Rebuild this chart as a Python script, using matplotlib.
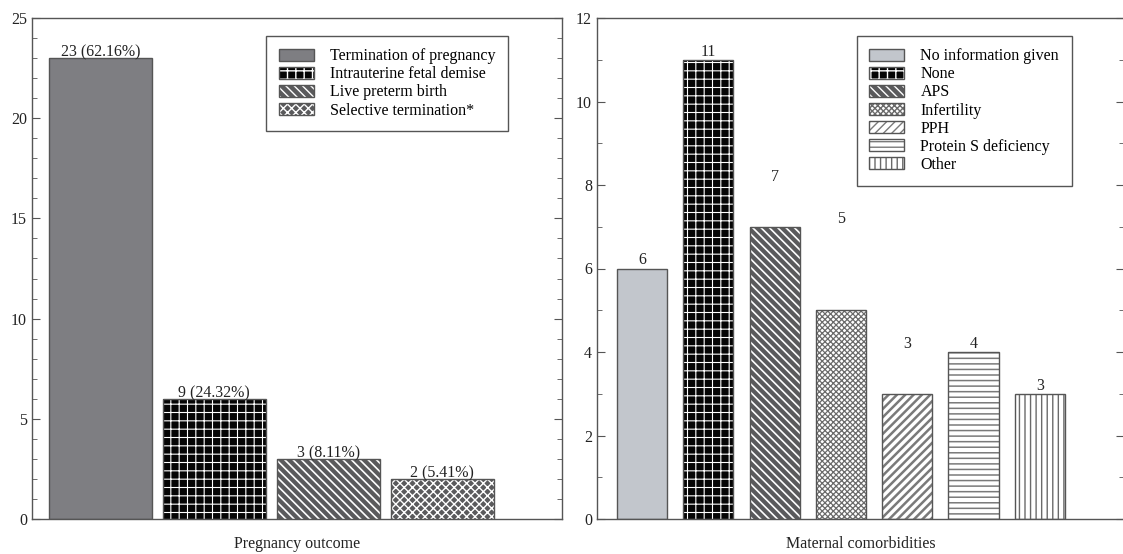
import matplotlib
matplotlib.use("Agg")
import matplotlib.pyplot as plt
from matplotlib.patches import Patch
from matplotlib.ticker import MultipleLocator

outcome_labels = [
    "Termination of pregnancy",
    "Intrauterine fetal demise",
    "Live preterm birth",
    "Selective termination*",
]
outcome_heights = [23, 6, 3, 2]
outcome_text = ["23 (62.16%)", "9 (24.32%)", "3 (8.11%)", "2 (5.41%)"]

comorb_labels = [
    "No information given",
    "None",
    "APS",
    "Infertility",
    "PPH",
    "Protein S deficiency",
    "Other",
]
comorb_counts = [6, 11, 7, 5, 3, 4, 3]
comorb_text = ["6", "11", "7", "5", "3", "4", "3"]
comorb_label_lift = [0, 0, 1, 2, 1, 0, 0]

# (face, hatch colour, hatch, hatch linewidth)
outcome_styles = [
    ("#7e7e82", None, None, 0),
    ("#050505", "white", "++", 0.8),
    ("#5a5a5c", "white", "\\\\\\\\", 1.2),
    ("#5a5a5c", "white", "xxxx", 1.0),
]
comorb_styles = [
    ("#c2c6cc", None, None, 0),
    ("#050505", "white", "++", 0.8),
    ("#5a5a5c", "white", "\\\\\\\\", 1.2),
    ("white", "#6a6a6a", "xxxxxx", 0.9),
    ("white", "#7a7a7a", "////", 1.8),
    ("white", "#7a7a7a", "---", 1.1),
    ("white", "#6a6a6a", "|||", 1.0),
]

EDGE = "#555555"
plt.rcParams["font.family"] = ["Liberation Serif", "DejaVu Serif"]


def hatched(kind, lw, **kw):
    with plt.rc_context({"hatch.linewidth": lw}):
        p = kind(**kw)
    if hasattr(p, "set_hatch_linewidth"):
        p.set_hatch_linewidth(lw)
    return p


def draw_bars(ax, heights, styles, width):
    handles = []
    for i, (h, (face, hcol, hatch, hlw)) in enumerate(zip(heights, styles)):
        ax.bar(i, h, width, color=face, linewidth=0, zorder=2)
        if hatch:
            with plt.rc_context({"hatch.linewidth": hlw}):
                bars = ax.bar(i, h, width, facecolor="none", edgecolor=hcol,
                              hatch=hatch, linewidth=0, zorder=3)
            for b in bars:
                if hasattr(b, "set_hatch_linewidth"):
                    b.set_hatch_linewidth(hlw)
        ax.bar(i, h, width, facecolor="none", edgecolor=EDGE,
               linewidth=1.0, zorder=4)
        parts = [Patch(facecolor=face, linewidth=0)]
        if hatch:
            parts.append(hatched(Patch, hlw, facecolor="none", edgecolor=hcol,
                                 hatch=hatch, linewidth=0))
        parts.append(Patch(facecolor="none", edgecolor=EDGE, linewidth=1.0))
        handles.append(tuple(parts))
    return handles


def style_axis(ax, top, major):
    ax.set_ylim(0, top)
    ax.yaxis.set_major_locator(MultipleLocator(major))
    ax.yaxis.set_minor_locator(MultipleLocator(1))
    ax.tick_params(axis="y", which="both", direction="in", left=True,
                   right=True, labelsize=11.5, colors="#555555",
                   labelcolor="#222222")
    ax.tick_params(axis="y", which="major", length=6)
    ax.tick_params(axis="y", which="minor", length=3.5)
    ax.tick_params(axis="x", bottom=False, labelbottom=False)
    for s in ax.spines.values():
        s.set_color(EDGE)
        s.set_linewidth(1.0)


def add_legend(ax, handles, labels, anchor):
    leg = ax.legend(handles, labels, loc="upper right", bbox_to_anchor=anchor,
                    fontsize=11.5, fancybox=False, framealpha=1,
                    edgecolor=EDGE, handlelength=2.2, handleheight=0.8,
                    handletextpad=1.0, labelspacing=0.13, borderpad=0.8,
                    borderaxespad=0)
    leg.get_frame().set_linewidth(1.0)


fig = plt.figure(figsize=(11.23, 5.54), dpi=100)
ax1 = fig.add_axes([32 / 1123, 35 / 554, 530 / 1123, 501 / 554])
ax2 = fig.add_axes([597 / 1123, 35 / 554, 527 / 1123, 501 / 554])

h1 = draw_bars(ax1, outcome_heights, outcome_styles, 0.9)
ax1.set_xlim(-0.6, 4.05)
style_axis(ax1, 25, 5)
for i, (h, t) in enumerate(zip(outcome_heights, outcome_text)):
    ax1.text(i, h - 0.12, t, ha="center", va="bottom", fontsize=11.5,
             color="#222222", zorder=5)
ax1.set_xlabel("Pregnancy outcome", fontsize=11.5, color="#222222",
               labelpad=12)
add_legend(ax1, h1, outcome_labels, (0.898, 0.965))

h2 = draw_bars(ax2, comorb_counts, comorb_styles, 0.755)
ax2.set_xlim(-0.68, 7.27)
style_axis(ax2, 12, 2)
for i, (h, t, lift) in enumerate(zip(comorb_counts, comorb_text,
                                     comorb_label_lift)):
    ax2.text(i, h + lift, t, ha="center", va="bottom", fontsize=11.5,
             color="#222222", zorder=5)
ax2.set_xlabel("Maternal comorbidities", fontsize=11.5, color="#222222",
               labelpad=12)
add_legend(ax2, h2, comorb_labels, (0.901, 0.965))

fig.savefig("out.png", dpi=100)
